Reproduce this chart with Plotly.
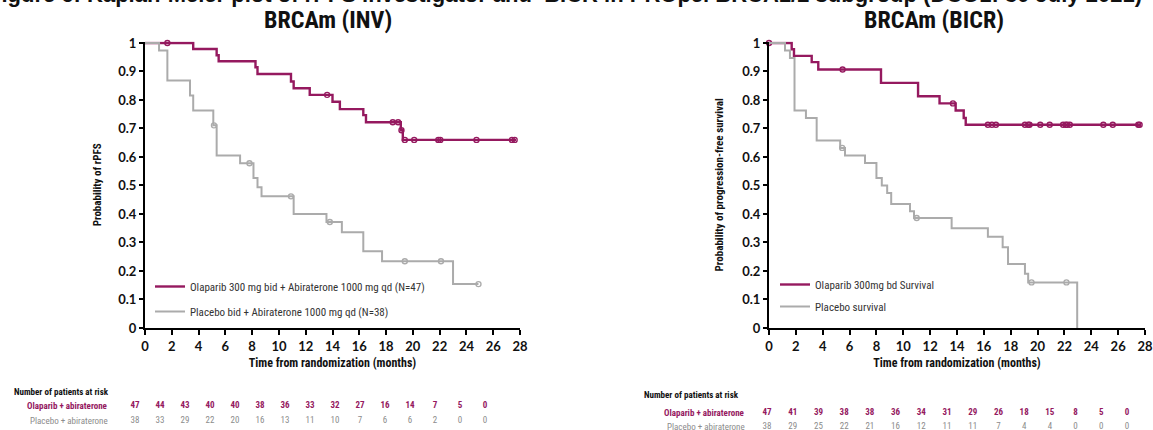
import numpy as np
import plotly.graph_objects as go

# ---------------- DATA ----------------
months_ticks = list(range(0, 29, 2))
prob_ticks = [round(v * 0.1, 1) for v in range(11)]

# INV - Olaparib (step times / survival after step)
inv_ola_t = [0, 3.6, 5.35, 5.5, 8.25, 8.4, 10.9, 11.1, 12.3, 14.0, 14.55, 16.3, 16.5, 19.1, 19.25]
inv_ola_s = [1.0, 0.979, 0.957, 0.936, 0.915, 0.891, 0.865, 0.841, 0.818, 0.794, 0.768, 0.747, 0.722, 0.694, 0.660]
inv_ola_end = 27.7
inv_ola_cens = [1.67, 13.6, 18.5, 18.9, 19.15, 19.4, 20.1, 21.9, 22.05, 24.75, 27.4, 27.6]

# INV - Placebo
inv_pla_t = [0, 1.05, 1.67, 3.36, 3.6, 5.1, 5.35, 7.1, 8.1, 8.4, 8.7, 11.1, 13.55, 14.7, 16.3, 17.7, 23.0]
inv_pla_s = [1.0, 0.974, 0.868, 0.816, 0.763, 0.711, 0.605, 0.578, 0.526, 0.494, 0.462, 0.40, 0.372, 0.336, 0.269, 0.234, 0.154]
inv_pla_end = 24.9
inv_pla_cens = [5.15, 7.8, 10.9, 13.8, 19.4, 22.1, 24.9]

# BICR - Olaparib
bicr_ola_t = [0, 1.69, 1.86, 3.18, 3.67, 8.34, 11.1, 12.7, 13.9, 14.5, 14.65]
bicr_ola_s = [1.0, 0.978, 0.955, 0.933, 0.907, 0.860, 0.813, 0.788, 0.763, 0.737, 0.713]
bicr_ola_end = 27.7
bicr_ola_cens = [0, 5.48, 13.7, 16.3, 16.6, 16.9, 19.06, 19.3, 19.4, 20.2, 20.9, 21.9,
                 22.1, 22.2, 22.4, 24.9, 25.6, 27.5, 27.6]

# BICR - Placebo
bicr_pla_t = [0, 1.19, 1.56, 1.9, 2.75, 3.55, 5.3, 5.66, 7.15, 8.0, 8.4, 8.8, 9.1, 10.5, 10.8,
              13.6, 16.3, 17.4, 17.8, 19.06, 19.3, 22.95]
bicr_pla_s = [1.0, 0.974, 0.947, 0.763, 0.737, 0.658, 0.632, 0.605, 0.579, 0.526, 0.50, 0.474,
              0.435, 0.41, 0.386, 0.35, 0.32, 0.283, 0.225, 0.19, 0.16, 0.0]
bicr_pla_end = 22.95
bicr_pla_cens = [5.45, 11.0, 19.55, 22.15]

# Numbers at risk
risk_times = list(range(0, 29, 2))
inv_risk_ola = [47, 44, 43, 40, 40, 38, 36, 33, 32, 27, 16, 14, 7, 5, 0]
inv_risk_pla = [38, 33, 29, 22, 20, 16, 13, 11, 10, 7, 6, 6, 2, 0, 0]
bicr_risk_ola = [47, 41, 39, 38, 38, 36, 34, 31, 29, 26, 18, 15, 8, 5, 0]
bicr_risk_pla = [38, 29, 25, 22, 21, 16, 12, 11, 11, 7, 4, 4, 0, 0, 0]

# ---------------- STYLE ----------------
PURPLE = "#95195f"
GREY = "#ababab"
NARROW = "Liberation Sans Narrow, Arial Narrow, Roboto Condensed, Lato, sans-serif"
TICKFONT = "Lato, Carlito, Calibri, sans-serif"
W, H = 1153, 430


def px_x(p):
    return p / W


def px_y(p):
    return 1 - p / H


def step_val(ts, ss, t):
    idx = np.searchsorted(np.array(ts), t, side="right") - 1
    return ss[max(idx, 0)]


fig = go.Figure()


def add_curve(ts, ss, end, cens, color, width, xa, ya, name, legend):
    fig.add_trace(go.Scatter(
        x=list(ts) + [end], y=list(ss) + [ss[-1]], mode="lines",
        line=dict(color=color, width=width, shape="hv"),
        xaxis=xa, yaxis=ya, name=name, legend=legend, legendgroup=name,
        hoverinfo="skip"))
    fig.add_trace(go.Scatter(
        x=cens, y=[step_val(ts, ss, c) for c in cens], mode="markers",
        marker=dict(symbol="circle-open", size=5, color=color, line=dict(width=1.4, color=color)),
        xaxis=xa, yaxis=ya, showlegend=False, hoverinfo="skip", cliponaxis=False))


add_curve(inv_ola_t, inv_ola_s, inv_ola_end, inv_ola_cens, PURPLE, 2.4, "x", "y",
          "Olaparib 300 mg bid + Abiraterone 1000 mg qd (N=47)", "legend")
add_curve(inv_pla_t, inv_pla_s, inv_pla_end, inv_pla_cens, GREY, 2.0, "x", "y",
          "Placebo bid + Abiraterone 1000 mg qd (N=38)", "legend")
add_curve(bicr_ola_t, bicr_ola_s, bicr_ola_end, bicr_ola_cens, PURPLE, 2.4, "x2", "y2",
          "Olaparib 300mg bd Survival", "legend2")
add_curve(bicr_pla_t, bicr_pla_s, bicr_pla_end, bicr_pla_cens, GREY, 2.0, "x2", "y2",
          "Placebo survival", "legend2")

# at-risk tables
for xa, ya, ola, pla in [("x3", "y3", inv_risk_ola, inv_risk_pla),
                         ("x4", "y4", bicr_risk_ola, bicr_risk_pla)]:
    fig.add_trace(go.Scatter(
        x=risk_times, y=[1] * len(risk_times), text=[str(v) for v in ola], mode="text",
        textfont=dict(family=NARROW, size=9, color=PURPLE, weight="bold"),
        xaxis=xa, yaxis=ya, showlegend=False, hoverinfo="skip", cliponaxis=False))
    fig.add_trace(go.Scatter(
        x=risk_times, y=[0] * len(risk_times), text=[str(v) for v in pla], mode="text",
        textfont=dict(family=NARROW, size=9, color="#8c8c8c"),
        xaxis=xa, yaxis=ya, showlegend=False, hoverinfo="skip", cliponaxis=False))

# ---------------- AXES ----------------
ydom = [px_y(328), px_y(328 - 285 * 1.005)]
common_x = dict(range=[0, 28], tickvals=months_ticks, showline=True, linewidth=2, linecolor="black",
                ticks="outside", ticklen=5, tickwidth=1.6, tickcolor="black", showgrid=False,
                zeroline=False, automargin=False,
                tickfont=dict(family=TICKFONT, size=13, color="#111", weight="bold"),
                title=dict(text="Time from randomization (months)",
                           font=dict(family=NARROW, size=12, color="#111", weight="bold"), standoff=6))
common_y = dict(range=[0, 1.005], tickvals=prob_ticks, ticktext=[("%g" % v) for v in prob_ticks],
                showline=True, linewidth=2, linecolor="black", automargin=False,
                ticks="outside", ticklen=4, tickwidth=1.6, tickcolor="black", showgrid=False,
                zeroline=False, tickfont=dict(family=TICKFONT, size=13, color="#111", weight="bold"))

fig.update_layout(
    template="none",
    width=W, height=H, margin=dict(l=0, r=0, t=0, b=0, pad=0),
    paper_bgcolor="white", plot_bgcolor="white",
    xaxis=dict(domain=[px_x(145), px_x(520)], anchor="y", **common_x),
    yaxis=dict(domain=ydom, anchor="x",
               title=dict(text="Probability of rPFS",
                          font=dict(family=NARROW, size=11, color="#111", weight="bold"), standoff=14),
               **common_y),
    xaxis2=dict(domain=[px_x(769), px_x(1145)], anchor="y2", **common_x),
    yaxis2=dict(domain=ydom, anchor="x2",
                title=dict(text="Probability of progression-free survival",
                           font=dict(family=NARROW, size=11, color="#111", weight="bold"), standoff=16),
                **common_y),
    xaxis3=dict(domain=[px_x(135), px_x(485)], range=[0, 28], anchor="y3", visible=False, automargin=False),
    yaxis3=dict(domain=[px_y(428.5), px_y(398.5)], range=[-0.5, 1.5], anchor="x3", visible=False, automargin=False),
    xaxis4=dict(domain=[px_x(767), px_x(1127)], range=[0, 28], anchor="y4", visible=False, automargin=False),
    yaxis4=dict(domain=[0, px_y(406)], range=[-3 / 14, 1.5], anchor="x4", visible=False, automargin=False),
    legend=dict(x=px_x(150), y=px_y(272), xanchor="left", yanchor="top", bgcolor="rgba(0,0,0,0)",
                font=dict(family=NARROW, size=11, color="#333"), tracegroupgap=6,
                traceorder="grouped"),
    legend2=dict(x=px_x(775), y=px_y(270), xanchor="left", yanchor="top", bgcolor="rgba(0,0,0,0)",
                 font=dict(family=NARROW, size=11, color="#333"), tracegroupgap=3,
                 traceorder="grouped"),
    showlegend=True,
)

ann = []
ann.append(dict(text="<b>Figure 6: Kaplan-Meier plot of rPFS investigator and  BICR in PROpel BRCA1/2 subgroup (DCO1: 30 July 2021)</b>",
                x=px_x(565), y=px_y(9), xref="paper", yref="paper", xanchor="center", yanchor="bottom",
                showarrow=False, font=dict(family="Liberation Sans, Arial, sans-serif", size=22, color="#111")))
ann.append(dict(text="<b>BRCAm (INV)</b>", x=px_x(328), y=px_y(20), xref="paper", yref="paper",
                xanchor="center", yanchor="middle", showarrow=False,
                font=dict(family=NARROW, size=24, color="#111")))
ann.append(dict(text="<b>BRCAm (BICR)</b>", x=px_x(934), y=px_y(20), xref="paper", yref="paper",
                xanchor="center", yanchor="middle", showarrow=False,
                font=dict(family=NARROW, size=24, color="#111")))
for hx, hy, lx, ly1, ly2 in [(12, 392, 110, 406, 421), (642, 395, 747, 413, 427)]:
    ann.append(dict(text="<b>Number of patients at risk</b>", x=px_x(hx), y=px_y(hy), xref="paper",
                    yref="paper", xanchor="left", yanchor="middle", showarrow=False,
                    font=dict(family=NARROW, size=9, color="#111")))
    ann.append(dict(text="<b>Olaparib + abiraterone</b>", x=px_x(lx), y=px_y(ly1), xref="paper",
                    yref="paper", xanchor="right", yanchor="middle", showarrow=False,
                    font=dict(family=NARROW, size=9, color=PURPLE)))
    ann.append(dict(text="Placebo + abiraterone", x=px_x(lx), y=px_y(ly2), xref="paper",
                    yref="paper", xanchor="right", yanchor="middle", showarrow=False,
                    font=dict(family=NARROW, size=9, color="#8c8c8c")))
fig.update_layout(annotations=ann)

fig.write_html(
    "out.html",
    config={"displayModeBar": False},
    post_script="document.body.style.margin='0';document.body.style.overflow='hidden';"
                "document.documentElement.style.overflow='hidden';",
)
